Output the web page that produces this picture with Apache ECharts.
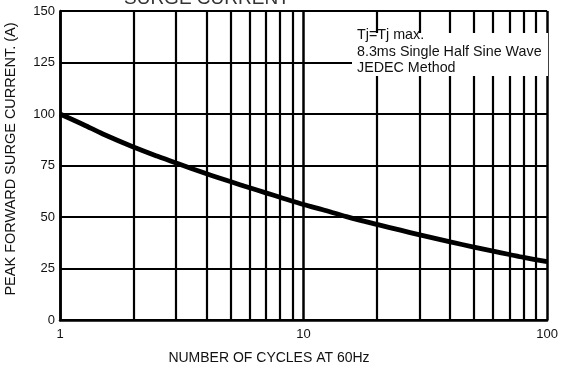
<!DOCTYPE html>
<html>
<head>
<meta charset="utf-8">
<script src="https://cdn.jsdelivr.net/npm/echarts@6/dist/echarts.min.js"></script>
<style>
  html, body { margin: 0; padding: 0; background: #fff; }
  #chart { width: 561px; height: 374px; }
</style>
</head>
<body>
<div id="chart"></div>
<script>
// Peak forward surge current vs. number of cycles (log x axis)
const cycles = [1, 1.25, 1.5, 2, 2.5, 3, 4, 5, 6, 7, 8, 10, 12, 15, 20, 25, 30, 40, 50, 60, 70, 80, 100];
const surgeAmps = [100, 94.8, 90.3, 84, 79.6, 76.2, 71, 67.2, 64.2, 61.7, 59.6, 56.1, 53.5, 50.2, 46.4, 43.6, 41.3, 37.9, 35.4, 33.4, 31.8, 30.4, 28.3];

// Intermediate decade lines (2..9, 20..90)
const minorCycles = [2, 3, 4, 5, 6, 7, 8, 9, 20, 30, 40, 50, 60, 70, 80, 90];
const yTicks = [0, 25, 50, 75, 100, 125, 150];

const noteLines = ['Tj=Tj max.', '8.3ms Single Half Sine Wave', 'JEDEC Method'];

const FONT = '"Liberation Sans", Arial, sans-serif';
const INK = '#111';
const chart = echarts.init(document.getElementById('chart'));

chart.setOption({
  animation: false,
  backgroundColor: '#fff',
  grid: { left: 60, right: 11, top: 11, bottom: 54, containLabel: false },
  xAxis: {
    type: 'log',
    logBase: 10,
    min: 1,
    max: 100,
    axisLine: { show: true, lineStyle: { color: '#000', width: 2.5 } },
    axisTick: { show: false },
    axisLabel: { color: INK, fontSize: 13, fontFamily: FONT, margin: 8 },
    splitLine: { show: true, lineStyle: { color: '#000', width: 2.5 } },
    minorTick: { show: false },
    minorSplitLine: { show: false }
  },
  yAxis: {
    type: 'value',
    min: yTicks[0],
    max: yTicks[yTicks.length - 1],
    interval: 25,
    axisLine: { show: true, lineStyle: { color: '#000', width: 2.5 } },
    axisTick: { show: false },
    axisLabel: { color: INK, fontSize: 13, fontFamily: FONT, margin: 5 },
    splitLine: { show: true, lineStyle: { color: '#000', width: 2.2 } }
  },
  series: [
    {
      type: 'line',
      smooth: 0.3,
      symbol: 'none',
      data: cycles.map((c, i) => [c, surgeAmps[i]]),
      lineStyle: { color: '#000', width: 4.8 },
      z: 5,
      markLine: {
        silent: true,
        symbol: 'none',
        z: 3,
        label: { show: false },
        lineStyle: { color: '#000', width: 2.2, type: 'solid' },
        data: minorCycles.map(v => ({ xAxis: v }))
      }
    }
  ],
  graphic: [
    // note box that masks the grid behind the text
    {
      type: 'rect',
      zlevel: 1,
      z: 100,
      shape: { x: 352, y: 33, width: 196, height: 43 },
      style: { fill: '#fff' }
    },
    {
      type: 'text',
      zlevel: 1,
      z: 101,
      x: 357,
      y: 27,
      style: {
        text: noteLines.join('\n'),
        font: '14.3px ' + FONT,
        lineHeight: 16.5,
        fill: INK
      }
    },
    // chart heading, clipped by the top edge
    {
      type: 'text',
      zlevel: 1,
      z: 101,
      x: 124,
      y: 8,
      style: {
        text: 'SURGE CURRENT',
        font: '19px ' + FONT,
        fill: '#333',
        verticalAlign: 'bottom'
      }
    },
    // axis titles
    {
      type: 'text',
      zlevel: 1,
      z: 101,
      x: 269,
      y: 358,
      style: {
        text: 'NUMBER OF CYCLES AT 60Hz',
        font: '14px ' + FONT,
        fill: INK,
        align: 'center',
        verticalAlign: 'middle'
      }
    },
    {
      type: 'text',
      zlevel: 1,
      z: 101,
      x: 11,
      y: 159,
      rotation: Math.PI / 2,
      style: {
        text: 'PEAK FORWARD SURGE CURRENT. (A)',
        font: '14.5px ' + FONT,
        fill: INK,
        align: 'center',
        verticalAlign: 'middle'
      }
    }
  ]
});
</script>
</body>
</html>
